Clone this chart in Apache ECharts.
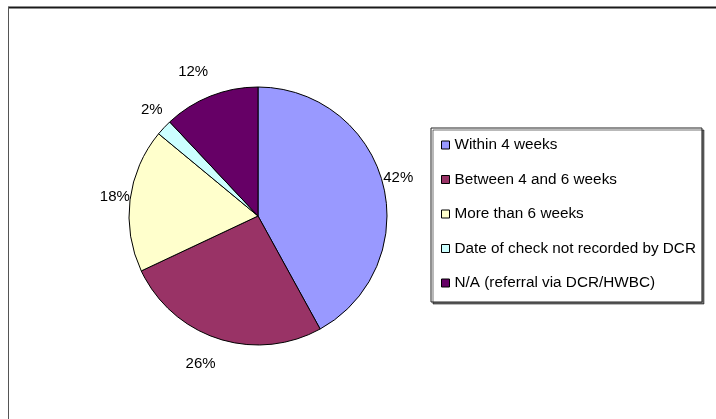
<!DOCTYPE html>
<html>
<head>
<meta charset="utf-8">
<script src="https://cdn.jsdelivr.net/npm/echarts@6/dist/echarts.min.js"></script>
<style>
html,body{margin:0;padding:0;background:#fff;}
#chart{width:716px;height:419px;}
</style>
</head>
<body>
<div id="chart"></div>
<script>
const categories = ["Within 4 weeks", "Between 4 and 6 weeks", "More than 6 weeks", "Date of check not recorded by DCR", "N/A (referral via DCR/HWBC)"];
const values = [42, 26, 18, 2, 12];
const colors = ["#9999FF", "#993366", "#FFFFCC", "#CCFFFF", "#660066"];

const chart = echarts.init(document.getElementById('chart'), null, {renderer: 'canvas'});
const font = '"Liberation Sans", Arial, sans-serif';
const CX = 258, CY = 216;
chart.setOption({
  animation: false,
  backgroundColor: '#fff',
  color: colors,
  graphic: [
    {type: 'line', shape: {x1: 8, y1: 7.5, x2: 716, y2: 7.5}, style: {stroke: '#1a1a1a', lineWidth: 2}},
    {type: 'line', shape: {x1: 8.5, y1: 7, x2: 8.5, y2: 419}, style: {stroke: '#555', lineWidth: 1}}
  ],
  legend: {
    orient: 'vertical',
    left: 431,
    top: 128,
    data: categories,
    icon: 'rect',
    itemWidth: 8,
    itemHeight: 8,
    itemGap: 18.5,
    padding: [9, 6, 11, 10],
    backgroundColor: '#fff',
    borderColor: '#222',
    borderWidth: 1,
    shadowColor: 'rgba(0,0,0,0.55)',
    shadowOffsetX: 2,
    shadowOffsetY: 2,
    shadowBlur: 0,
    itemStyle: {borderColor: '#000', borderWidth: 1},
    textStyle: {fontFamily: font, fontSize: 15.3, color: '#000', lineHeight: 16},
    selectedMode: false
  },
  series: [{
    type: 'pie',
    center: [CX, CY],
    radius: 129,
    startAngle: 90,
    clockwise: true,
    avoidLabelOverlap: false,
    silent: true,
    data: categories.map((c, i) => ({name: c, value: values[i]})),
    itemStyle: {borderColor: '#000', borderWidth: 1},
    label: {
      show: true,
      position: 'outside',
      formatter: p => Math.round(p.percent) + '%',
      fontFamily: font,
      fontSize: 15,
      color: '#000'
    },
    labelLine: {show: false, length: 6, length2: 0},
    labelLayout: function (p) {
      const r = p.labelRect;
      const lx = r.x + r.width / 2, ly = r.y + r.height / 2;
      return {
        x: CX + (lx - CX) * 0.93,
        y: CY + (ly - CY) * 1.15,
        align: 'center',
        verticalAlign: 'middle'
      };
    },
    emphasis: {disabled: true}
  }]
});
</script>
</body>
</html>
